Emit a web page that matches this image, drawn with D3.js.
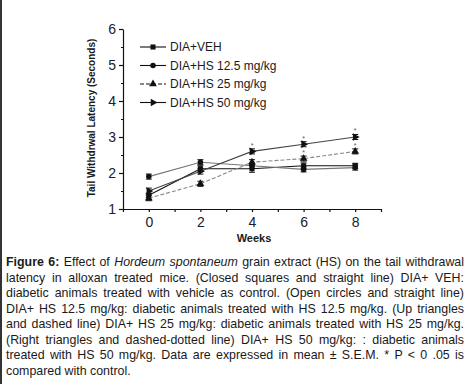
<!DOCTYPE html>
<html>
<head>
<meta charset="utf-8">
<script src="https://cdn.jsdelivr.net/npm/d3@7"></script>
<style>
  body { margin: 0; background: #fff; }
  #wrap { position: relative; width: 468px; height: 384px; overflow: hidden; }
  #caption { position: absolute; left: 6px; top: 255px; width: 458px;
    font: 12.4px "Liberation Sans", Arial, sans-serif; color: #1a1a1a; }
  #caption div { height: 15.5px; line-height: 15.5px; text-align: justify; text-align-last: justify; white-space: nowrap; }
  #caption div.last { text-align-last: left; }
</style>
</head>
<body>
<div id="wrap">
  <svg id="chart" width="468" height="384"></svg>
  <div id="caption"></div>
</div>
<script>
  var weeks = [0, 2, 4, 6, 8];
  var seriesNames = ["DIA+VEH", "DIA+HS 12.5 mg/kg", "DIA+HS 25 mg/kg", "DIA+HS 50 mg/kg"];
  var veh   = [1.38, 2.12, 2.12, 2.2, 2.2];
  var hs125 = [1.9, 2.3, 2.2, 2.1, 2.15];
  var hs25  = [1.3, 1.7, 2.3, 2.4, 2.6];
  var hs50  = [1.5, 2.05, 2.6, 2.8, 3.0];
  var vehSem   = [0.06, 0.08, 0.1, 0.08, 0.07];
  var hs125Sem = [0.07, 0.07, 0.07, 0.07, 0.07];
  var hs25Sem  = [0.07, 0.07, 0.07, 0.07, 0.07];
  var hs50Sem  = [0.08, 0.08, 0.07, 0.07, 0.07];
  // * P < 0.05 vs control
  var starsHs25 = [6, 8];
  var starsHs50 = [4, 6, 8];
  var yTicks = [1, 2, 3, 4, 5, 6];
  var xTicks = [0, 2, 4, 6, 8];

  var captionLines = [
    "<b>Figure 6:</b> Effect of <i>Hordeum spontaneum</i> grain extract (HS) on the tail withdrawal",
    "latency in alloxan treated mice. (Closed squares and straight line) DIA+ VEH:",
    "diabetic animals treated with vehicle as control. (Open circles and straight line)",
    "DIA+ HS 12.5 mg/kg: diabetic animals treated with HS 12.5 mg/kg. (Up triangles",
    "and dashed line) DIA+ HS 25 mg/kg: diabetic animals treated with HS 25 mg/kg.",
    "(Right triangles and dashed-dotted line) DIA+ HS 50 mg/kg: : diabetic animals",
    "treated with HS 50 mg/kg. Data are expressed in mean \u00b1 S.E.M. * P &lt; 0 .05 is",
    "compared with control."
  ];

  var series = [
    {name: seriesNames[0], values: veh, sem: vehSem, stars: [], color: "#111", dash: null, symbol: d3.symbolSquare, size: 26, rot: 0},
    {name: seriesNames[1], values: hs125, sem: hs125Sem, stars: [], color: "#777", dash: null, symbol: d3.symbolCircle, size: 24, rot: 0},
    {name: seriesNames[2], values: hs25, sem: hs25Sem, stars: starsHs25, color: "#888", dash: "4,2", symbol: d3.symbolTriangle, size: 26, rot: 0},
    {name: seriesNames[3], values: hs50, sem: hs50Sem, stars: starsHs50, color: "#444", dash: null, symbol: d3.symbolTriangle, size: 26, rot: 90}
  ];

  var font = '"Liberation Sans", Arial, sans-serif';
  var svg = d3.select("#chart");

  // left page border
  svg.append("rect")
      .attr("x", 0).attr("y", 0)
      .attr("width", 2).attr("height", 384)
      .attr("fill", "#333");

  var x = d3.scaleLinear().domain([-1, 9]).range([123, 381]);
  var y = d3.scaleLinear().domain([1, 6]).range([209, 29]);

  var g = svg.append("g");

  // y axis
  g.append("g")
      .attr("transform", "translate(123,0)")
      .call(d3.axisLeft(y).tickValues(d3.range(1.5, 6, 1)).tickSize(2).tickFormat(""))
      .call(a => a.select(".domain").remove());
  g.append("g")
      .attr("transform", "translate(123,0)")
      .call(d3.axisLeft(y).tickValues(yTicks).tickSize(4).tickSizeOuter(0).tickPadding(3).tickFormat(d3.format("d")));

  // x axis
  g.append("g")
      .attr("transform", "translate(0,209)")
      .call(d3.axisBottom(x).tickValues([-1, 1, 3, 5, 7, 9]).tickSize(3).tickFormat(""))
      .call(a => a.select(".domain").remove());
  g.append("g")
      .attr("transform", "translate(0,209)")
      .call(d3.axisBottom(x).tickValues(xTicks).tickSize(3).tickSizeOuter(0).tickPadding(5).tickFormat(d3.format("d")));

  g.selectAll(".tick line, .domain").attr("stroke", "#111").attr("stroke-width", 1.2);
  g.selectAll(".tick text")
      .style("font-family", font)
      .style("font-size", "14px")
      .attr("fill", "#1a2030");

  // axis titles
  svg.append("text")
      .attr("transform", "translate(95,118) rotate(-90)")
      .attr("text-anchor", "middle")
      .style("font", "bold 10px " + font)
      .attr("fill", "#1a1a1a")
      .text("Tail Withdrwal Latency (Seconds)");

  svg.append("text")
      .attr("x", 254).attr("y", 242)
      .attr("text-anchor", "middle")
      .style("font", "bold 11px " + font)
      .attr("fill", "#1a1a1a")
      .text("Weeks");

  var line = d3.line()
      .x((d, i) => x(weeks[i]))
      .y(d => y(d));

  var sg = svg.selectAll(".series")
      .data(series)
    .enter().append("g")
      .attr("class", "series");

  sg.append("path")
      .attr("d", d => line(d.values))
      .attr("fill", "none")
      .attr("stroke", d => d.color)
      .attr("stroke-width", 1.1)
      .attr("stroke-dasharray", d => d.dash);

  // error bars, markers, stars
  sg.each(function(s) {
    var eb = d3.select(this).selectAll(".eb")
        .data(s.values.map((v, i) => ({w: weeks[i], v: v, e: s.sem[i]})))
      .enter().append("g")
        .attr("stroke", "#111")
        .attr("stroke-width", 1);
    eb.append("line")
        .attr("x1", d => x(d.w)).attr("x2", d => x(d.w))
        .attr("y1", d => y(d.v - d.e)).attr("y2", d => y(d.v + d.e));
    eb.append("line")
        .attr("x1", d => x(d.w) - 3).attr("x2", d => x(d.w) + 3)
        .attr("y1", d => y(d.v + d.e)).attr("y2", d => y(d.v + d.e));
    eb.append("line")
        .attr("x1", d => x(d.w) - 3).attr("x2", d => x(d.w) + 3)
        .attr("y1", d => y(d.v - d.e)).attr("y2", d => y(d.v - d.e));

    d3.select(this).selectAll(".mk")
        .data(s.values.map((v, i) => ({w: weeks[i], v: v})))
      .enter().append("path")
        .attr("d", d3.symbol().type(s.symbol).size(s.size))
        .attr("transform", d => "translate(" + x(d.w) + "," + y(d.v) + ") rotate(" + s.rot + ")")
        .attr("fill", "#111");

    d3.select(this).selectAll(".star")
        .data(s.stars)
      .enter().append("text")
        .attr("x", w => x(w))
        .attr("y", w => y(s.values[weeks.indexOf(w)] + s.sem[weeks.indexOf(w)]) - 1)
        .attr("text-anchor", "middle")
        .style("font", "7px " + font)
        .attr("fill", "#555")
        .text("*");
  });

  // legend
  var legend = svg.append("g")
      .attr("transform", "translate(140,47)");
  var li = legend.selectAll(".li")
      .data(series)
    .enter().append("g")
      .attr("transform", (d, i) => "translate(0," + (i * 18.5) + ")");
  li.append("line")
      .attr("x1", 0).attr("x2", 26)
      .attr("stroke", "#111")
      .attr("stroke-width", 1.1)
      .attr("stroke-dasharray", d => d.dash);
  li.append("path")
      .attr("d", d => d3.symbol().type(d.symbol).size(d.size)())
      .attr("transform", d => "translate(13,0) rotate(" + d.rot + ")")
      .attr("fill", "#111");
  li.append("text")
      .attr("x", 30)
      .attr("dy", "0.35em")
      .style("font", "12px " + font)
      .attr("fill", "#1a1a1a")
      .text(d => d.name);

  // caption
  d3.select("#caption").selectAll("div")
      .data(captionLines)
    .enter().append("div")
      .classed("last", (d, i) => i === captionLines.length - 1)
      .html(d => d);
</script>
</body>
</html>
